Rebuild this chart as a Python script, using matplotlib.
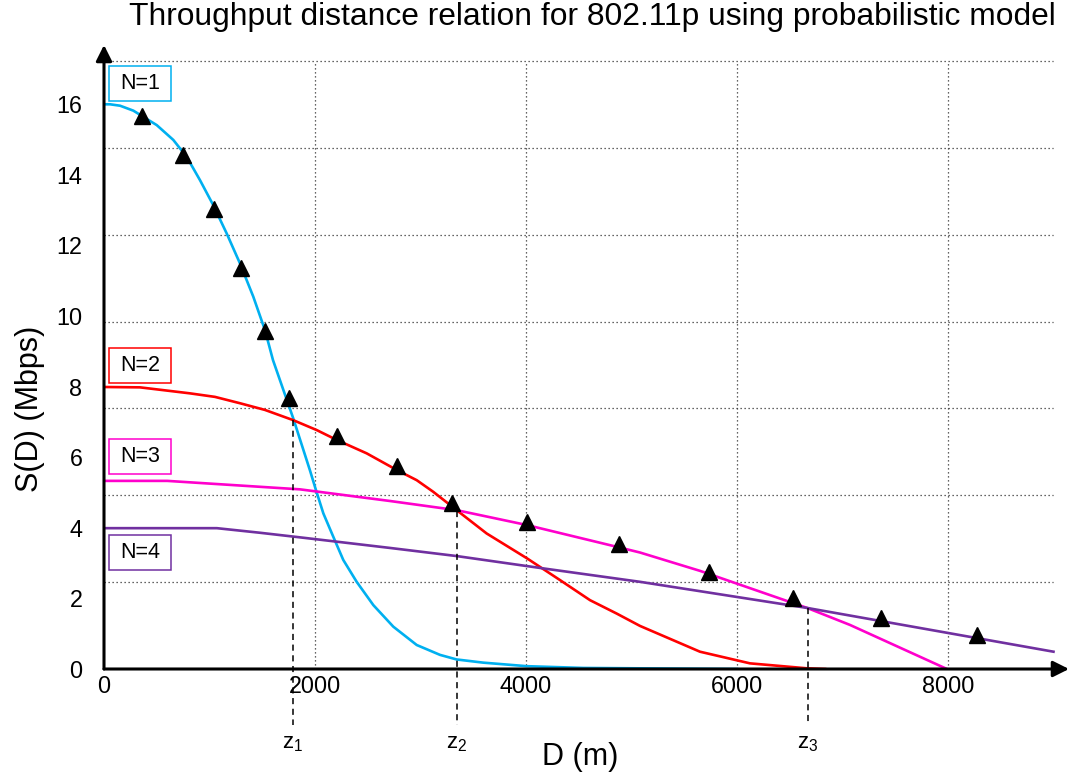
import numpy as np
import matplotlib.pyplot as plt
from matplotlib.patches import Rectangle

plt.rcParams['font.family'] = ['Liberation Sans', 'DejaVu Sans']
plt.rcParams['mathtext.fontset'] = 'custom'
plt.rcParams['mathtext.rm'] = 'Liberation Sans'

# throughput curves (D in m, S in Mbps)
d_n1 = [0, 57, 152, 278, 500, 657, 784, 910, 1036, 1163, 1289, 1415, 1526, 1602, 1794, 1953, 2009,
        2079, 2173, 2268, 2395, 2553, 2742, 2964, 3185, 3343, 3595, 4007, 4543, 6000]
s_n1 = [16.0, 16.0, 15.96, 15.82, 15.41, 14.99, 14.51, 13.85, 13.14, 12.34, 11.49, 10.55, 9.60, 8.75, 7.10, 5.62, 5.07,
        4.41, 3.75, 3.09, 2.47, 1.81, 1.20, 0.68, 0.40, 0.27, 0.18, 0.08, 0.03, 0.0]

d_n2 = [0, 341, 815, 1052, 1289, 1526, 1794, 2016, 2206, 2490, 2774, 2964, 3121, 3343, 3627, 4007, 4322,
        4607, 4860, 5081, 5649, 6123, 6661, 6835]
s_n2 = [7.99, 7.98, 7.81, 7.71, 7.53, 7.34, 7.05, 6.77, 6.49, 6.11, 5.64, 5.35, 5.02, 4.50, 3.84, 3.14, 2.52,
        1.95, 1.57, 1.22, 0.49, 0.16, 0.02, 0.0]

d_n3 = [0, 600, 1858, 2711, 3343, 4007, 4891, 5081, 5650, 6665, 7070, 7990]
s_n3 = [5.33, 5.33, 5.09, 4.76, 4.50, 4.08, 3.44, 3.30, 2.78, 1.73, 1.25, 0.0]

d_n4 = [0, 1070, 1479, 1858, 2711, 3343, 4164, 5081, 6665, 9000]
s_n4 = [3.99, 3.99, 3.86, 3.73, 3.43, 3.20, 2.85, 2.47, 1.73, 0.49]

# triangle markers on the upper envelope
d_mark = [363, 752, 1046, 1299, 1526, 1756, 2213, 2774, 3296, 4007, 4882, 5737, 6529, 7363, 8275]
s_mark = [15.67, 14.56, 13.02, 11.35, 9.58, 7.67, 6.61, 5.76, 4.69, 4.16, 3.54, 2.74, 2.01, 1.44, 0.96]

# switching distances z1..z3 and the throughput where curves cross
z_d = [1791, 3346, 6673]
z_s = [7.05, 4.48, 1.73]
z_names = ['1', '2', '3']

curve_labels = ['N=1', 'N=2', 'N=3', 'N=4']
curve_colors = ['#00B0F0', '#FF0000', '#FF00CC', '#7030A0']
label_boxes = [(16.09, 17.08), (8.10, 9.09), (5.52, 6.52), (2.80, 3.80)]

x_ticks = [0, 2000, 4000, 6000, 8000]
y_ticks = [0, 2, 4, 6, 8, 10, 12, 14, 16]
grid_top = 17.23
grid_rows = 7

fig = plt.figure(figsize=(10.69, 7.76), dpi=100)
ax = fig.add_axes([104 / 1069, 107 / 776, 965 / 1069, 624 / 776])
x_max, y_max = 9147, 17.68
ax.set_xlim(0, x_max)
ax.set_ylim(0, y_max)
for s in ax.spines.values():
    s.set_visible(False)

# dotted grid
grid_style = dict(color='#333333', linestyle=(0, (1, 2.2)), linewidth=0.9, zorder=1)
for k in range(1, grid_rows + 1):
    ax.plot([0, 9000], [grid_top * k / grid_rows] * 2, **grid_style)
for xv in x_ticks[1:]:
    ax.plot([xv, xv], [0, grid_top], **grid_style)

for d, s, c in zip([d_n1, d_n2, d_n3, d_n4], [s_n1, s_n2, s_n3, s_n4], curve_colors):
    ax.plot(d, s, color=c, lw=1.9, zorder=3, solid_joinstyle='round')

ax.plot(d_mark, s_mark, linestyle='none', marker='^', color='black', markersize=11, zorder=5)

# dashed drop lines for z1..z3
for zd, zs, name in zip(z_d, z_s, z_names):
    ax.plot([zd, zd], [zs, -1.6], color='black', lw=1.1, linestyle=(0, (4, 3)), clip_on=False, zorder=4)
    ax.text(zd, -2.1, r'$\mathregular{z_%s}$' % name, ha='center', va='center', fontsize=16)

# curve name boxes
for lab, (y0, y1), c in zip(curve_labels, label_boxes, curve_colors):
    ax.add_patch(Rectangle((47, y0), 588, y1 - y0, facecolor='white', edgecolor=c, lw=1.1, zorder=6))
    ax.text(341, (y0 + y1) / 2, lab, ha='center', va='center', fontsize=15.5, zorder=7)

# axes with arrow heads
arrow = dict(arrowstyle='-|>', color='black', lw=2.2, mutation_scale=24, shrinkA=0, shrinkB=0)
ax.annotate('', xy=(x_max, 0), xytext=(0, 0), arrowprops=arrow, annotation_clip=False, zorder=8)
ax.annotate('', xy=(0, y_max), xytext=(0, 0), arrowprops=arrow, annotation_clip=False, zorder=8)

ax.set_xticks(x_ticks)
ax.set_yticks(y_ticks)
ax.tick_params(axis='x', length=0, pad=4.5, labelsize=16.8)
ax.tick_params(axis='y', length=0, pad=15.5, labelsize=16.8)

fig.text(592 / 1069, 1 - 17 / 776, 'Throughput distance relation for 802.11p using probabilistic model',
         ha='center', va='center', fontsize=22.9)
fig.text(580 / 1069, 1 - 757 / 776, 'D (m)', ha='center', va='center', fontsize=22)
fig.text(30 / 1069, 1 - 409 / 776, 'S(D) (Mbps)', ha='center', va='center', rotation=90, fontsize=22)

fig.savefig('out.png', dpi=100)
